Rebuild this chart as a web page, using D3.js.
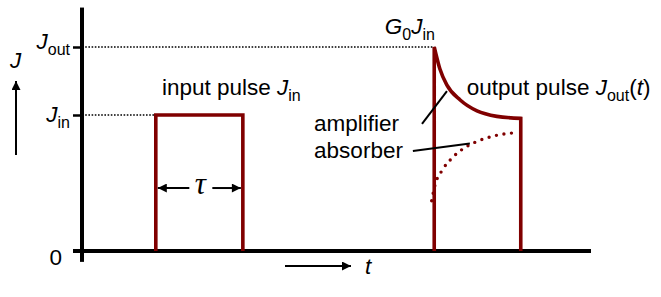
<!DOCTYPE html>
<html>
<head>
<meta charset="utf-8">
<script src="https://cdn.jsdelivr.net/npm/d3@7"></script>
<style>
  body { margin: 0; background: #fff; }
  svg text { font-family: "Liberation Sans", Arial, sans-serif; font-size: 22.5px; fill: #000; }
</style>
</head>
<body>
<script>
// values: t in arbitrary time units, J in units of J_in
const levelTicks = [
  { J: 1.5, dy: 2, parts: [{ t: "J", i: true }, { t: "out", sub: true }] },
  { J: 1.0, dy: 7, parts: [{ t: "J", i: true }, { t: "in", sub: true }] }
];
const inputPulse = [[14.5, 0], [14.5, 1], [31.6, 1], [31.6, 0]];
const amplifier = [[69.2, 1.5], [70.3, 1.34], [71.7, 1.22], [74.3, 1.11], [77.6, 1.03], [81.5, 0.99], [86.2, 0.975]];
const absorber = [[68.7, 0.37], [69.35, 0.485], [70.7, 0.59], [72.6, 0.68], [75.0, 0.755], [77.9, 0.81], [80.8, 0.845], [83.9, 0.865], [85.4, 0.87]];
const leaders = [
  { from: [66.8, 0.934], to: [71.7, 1.176] },
  { from: [65.0, 0.735], to: [76.2, 0.79] }
];
const labels = [
  { at: [15.7, 1.147], parts: [{ t: "input pulse " }, { t: "J", i: true }, { t: "in", sub: true }] },
  { at: [75.6, 1.147], parts: [{ t: "output pulse " }, { t: "J", i: true }, { t: "out", sub: true }, { t: "(" }, { t: "t", i: true }, { t: ")" }] },
  { at: [59.5, 1.596], parts: [{ t: "G", i: true }, { t: "0", sub: true }, { t: "J", i: true }, { t: "in", sub: true }] },
  { at: [45.6, 0.882], parts: [{ t: "amplifier" }] },
  { at: [45.6, 0.684], parts: [{ t: "absorber" }] }
];

const width = 661, height = 297;
const red = "#800000";

const svg = d3.select("body").append("svg")
  .attr("xmlns", "http://www.w3.org/2000/svg")
  .attr("width", width)
  .attr("height", height);

const x = d3.scaleLinear().domain([0, 100]).range([82, 591]);
const y = d3.scaleLinear().domain([0, 1.5]).range([251, 47]);

const defs = svg.append("defs");
defs.append("marker")
  .attr("id", "arrowhead")
  .attr("viewBox", "0 0 10 10")
  .attr("refX", 10)
  .attr("refY", 5)
  .attr("markerUnits", "userSpaceOnUse")
  .attr("markerWidth", 11)
  .attr("markerHeight", 9)
  .attr("orient", "auto")
  .append("path")
  .attr("d", "M0,0 L10,5 L0,10 Z")
  .attr("fill", "#000");

function richText(g, px, py, parts, anchor) {
  const txt = g.append("text")
    .attr("x", px)
    .attr("y", py)
    .attr("text-anchor", anchor || "start");
  let shift = 0;
  parts.forEach(p => {
    const ts = txt.append("tspan").text(p.t);
    if (p.i) ts.attr("font-style", "italic");
    if (p.sub) {
      ts.attr("font-size", 16).attr("dy", 6 - shift);
      shift = 6;
    } else if (shift) {
      ts.attr("dy", -shift);
      shift = 0;
    }
  });
  return txt;
}

// dotted reference lines
const refLayer = svg.append("g").attr("class", "refs");
refLayer.append("line")
  .attr("x1", x(0)).attr("x2", x(amplifier[0][0]))
  .attr("y1", y(1.5)).attr("y2", y(1.5));
refLayer.append("line")
  .attr("x1", x(0)).attr("x2", x(inputPulse[0][0]))
  .attr("y1", y(1)).attr("y2", y(1));
refLayer.selectAll("line")
  .attr("stroke", "#000")
  .attr("stroke-width", 1.6)
  .attr("stroke-dasharray", "1.6,1.6");

// axes
const yAxis = d3.axisLeft(y).tickValues(levelTicks.map(d => d.J)).tickSize(9).tickFormat("");
const axisG = svg.append("g").attr("class", "y-axis")
  .attr("transform", `translate(${x(0)},0)`)
  .call(yAxis);
axisG.select(".domain").remove();
axisG.selectAll(".tick line").attr("stroke", "#000").attr("stroke-width", 2.5);

svg.append("line")
  .attr("x1", x(0)).attr("x2", x(0))
  .attr("y1", y(-0.08)).attr("y2", y(1.79))
  .attr("stroke", "#000").attr("stroke-width", 4);
svg.append("line")
  .attr("x1", x(0) - 9).attr("x2", x(100))
  .attr("y1", y(0)).attr("y2", y(0))
  .attr("stroke", "#000").attr("stroke-width", 4);

// tick labels
const tickLabels = svg.append("g").attr("class", "tick-labels");
levelTicks.forEach(d => richText(tickLabels, x(0) - 12, y(d.J) + d.dy, d.parts, "end"));
richText(tickLabels, x(0) - 20, y(0) + 14, [{ t: "0" }], "end");

// axis arrows
svg.append("line")
  .attr("x1", 16).attr("x2", 16)
  .attr("y1", 155).attr("y2", 81)
  .attr("stroke", "#000").attr("stroke-width", 2)
  .attr("marker-end", "url(#arrowhead)");
richText(svg, 10, 68, [{ t: "J", i: true }]);

svg.append("line")
  .attr("x1", 285).attr("x2", 351)
  .attr("y1", 266).attr("y2", 266)
  .attr("stroke", "#000").attr("stroke-width", 2)
  .attr("marker-end", "url(#arrowhead)");
richText(svg, 365, 274, [{ t: "t", i: true }]);

// pulses
const line = d3.line().x(d => x(d[0])).y(d => y(d[1]));
const curve = d3.line().x(d => x(d[0])).y(d => y(d[1])).curve(d3.curveMonotoneX);

svg.append("path")
  .attr("d", line(inputPulse))
  .attr("fill", "none")
  .attr("stroke", red)
  .attr("stroke-width", 3.6)
  .attr("stroke-linejoin", "miter");

const first = amplifier[0], last = amplifier[amplifier.length - 1];
const ampD = curve(amplifier);
svg.append("path")
  .attr("d", `M${x(first[0])},${y(0)}L` + ampD.slice(1) + `L${x(last[0])},${y(0)}`)
  .attr("fill", "none")
  .attr("stroke", red)
  .attr("stroke-width", 3.6)
  .attr("stroke-linejoin", "miter");

svg.append("path")
  .attr("d", curve(absorber))
  .attr("fill", "none")
  .attr("stroke", red)
  .attr("stroke-width", 3.4)
  .attr("stroke-linecap", "round")
  .attr("stroke-dasharray", "0,7.6");

// tau marker
const tauY = y(0.463);
const xs = x(inputPulse[0][0]) + 2, xe = x(inputPulse[3][0]) - 2, xm = (xs + xe) / 2 + 1;
svg.append("line")
  .attr("x1", xm - 11).attr("x2", xs).attr("y1", tauY).attr("y2", tauY)
  .attr("stroke", "#000").attr("stroke-width", 2)
  .attr("marker-end", "url(#arrowhead)");
svg.append("line")
  .attr("x1", xm + 12).attr("x2", xe).attr("y1", tauY).attr("y2", tauY)
  .attr("stroke", "#000").attr("stroke-width", 2)
  .attr("marker-end", "url(#arrowhead)");
svg.append("text")
  .attr("x", xm).attr("y", tauY + 6)
  .attr("text-anchor", "middle")
  .style("font-family", "'Liberation Serif', 'Times New Roman', serif")
  .style("font-style", "italic")
  .style("font-size", "31px")
  .text("τ");

// leaders and labels
svg.append("g").selectAll("line")
  .data(leaders)
  .join("line")
  .attr("x1", d => x(d.from[0])).attr("y1", d => y(d.from[1]))
  .attr("x2", d => x(d.to[0])).attr("y2", d => y(d.to[1]))
  .attr("stroke", "#000").attr("stroke-width", 2);

const labelLayer = svg.append("g").attr("class", "labels");
labels.forEach(d => richText(labelLayer, x(d.at[0]), y(d.at[1]), d.parts));
</script>
</body>
</html>
